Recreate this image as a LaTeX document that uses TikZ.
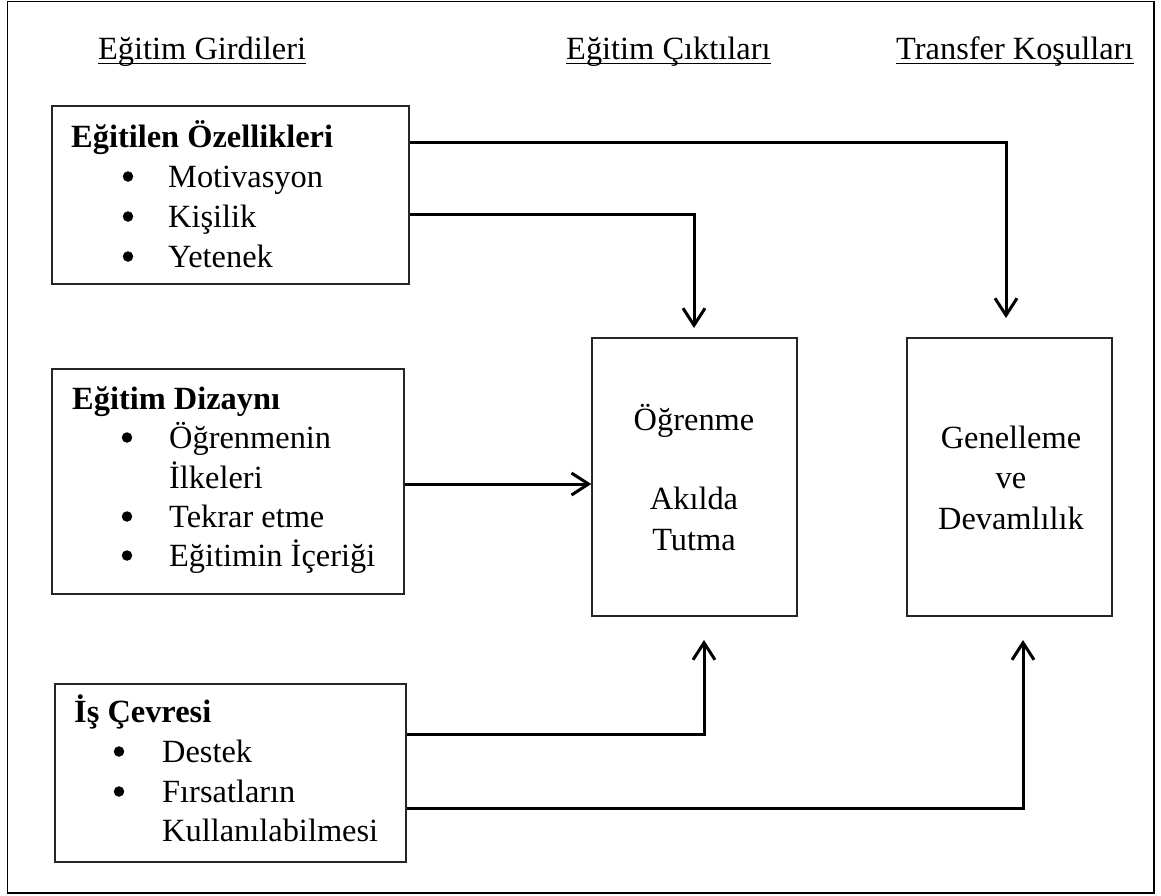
\documentclass[tikz,border=0pt]{standalone}
\usepackage{fontspec}
\setmainfont{Liberation Serif}
\usetikzlibrary{arrows.meta}

\tikzset{
  box/.style={draw=black!85, line width=1.5pt, rectangle, inner sep=0pt},
  txt/.style={inner sep=0pt, anchor=base west},
  ctxt/.style={inner sep=0pt, anchor=base},
  bul/.style={circle, fill=black, inner sep=0pt, minimum size=10.5pt, yshift=10.5pt},
  arr/.style={line width=3pt, -{Straight Barb[length=17pt,width=22pt,line width=3pt]}},
  uline/.style={line width=1.4pt},
}

\begin{document}
\begin{tikzpicture}[x=1pt, y=-1pt, font=\fontsize{32.4}{40}\selectfont]
\useasboundingbox (0,0) rectangle (1161,895);

% outer frame
\draw[line width=1.6pt] (7.5,1.5) rectangle (1154,893);

% column headings
\node[txt] (h1) at (98,59) {Eğitim Girdileri};
\node[txt] (h2) at (566,59) {Eğitim Çıktıları};
\node[txt] (h3) at (896,59) {Transfer Koşulları};
\foreach \h in {h1,h2,h3}
  \draw[uline] ([yshift=-4.5pt]\h.base west) -- ([yshift=-4.5pt]\h.base east);

% input boxes
\node[box, minimum width=357pt, minimum height=178pt] (b1) at (230.5,195) {};
\node[box, minimum width=352pt, minimum height=225pt] (b2) at (228,481.5) {};
\node[box, minimum width=351pt, minimum height=178pt] (b3) at (230.5,773) {};

% outcome boxes
\node[box, minimum width=205pt, minimum height=278pt] (mid) at (694.5,477) {};
\node[box, minimum width=205pt, minimum height=278pt] (rgt) at (1009.5,477) {};

% trainee characteristics
\node[txt] at (71,147) {\textbf{Eğitilen Özellikleri}};
\node[bul] at (128,187) {};
\node[txt] at (168,187) {Motivasyon};
\node[bul] at (128,227) {};
\node[txt] at (168,227) {Kişilik};
\node[bul] at (128,267) {};
\node[txt] at (168,267) {Yetenek};

% training design
\node[txt] at (72,409) {\textbf{Eğitim Dizaynı}};
\node[bul] at (127,448) {};
\node[txt] at (169,448) {Öğrenmenin};
\node[txt] at (169,488) {İlkeleri};
\node[bul] at (127,527) {};
\node[txt] at (169,527) {Tekrar etme};
\node[bul] at (127,566) {};
\node[txt] at (169,566) {Eğitimin İçeriği};

% work environment
\node[txt] at (74,722) {\textbf{İş Çevresi}};
\node[bul] at (119,762) {};
\node[txt] at (162,762) {Destek};
\node[bul] at (119,802) {};
\node[txt] at (162,802) {Fırsatların};
\node[txt] at (162,841) {Kullanılabilmesi};

% outcome texts
\node[ctxt] at (694,430) {Öğrenme};
\node[ctxt] at (694,509) {Akılda};
\node[ctxt] at (694,550) {Tutma};
\node[ctxt] at (1011,448) {Genelleme};
\node[ctxt] at (1011,488) {ve};
\node[ctxt] at (1011,529) {Devamlılık};

% connector levels and arrow ends
\coordinate (y1) at (0,142);
\coordinate (y2) at (0,214);
\coordinate (y3) at (0,484);
\coordinate (y4) at (0,734);
\coordinate (y5) at (0,808);
\coordinate (e1) at (1006,318);
\coordinate (e2) at (694,328);
\coordinate (e4) at (704,640);
\coordinate (e5) at (1023,640);

% connectors
\draw[arr] (b1.east |- y1) -| (e1);
\draw[arr] (b1.east |- y2) -| (e2);
\draw[arr] (b2.east |- y3) -- (mid.west |- y3);
\draw[arr] (b3.east |- y4) -| (e4);
\draw[arr] (b3.east |- y5) -| (e5);
\end{tikzpicture}
\end{document}
